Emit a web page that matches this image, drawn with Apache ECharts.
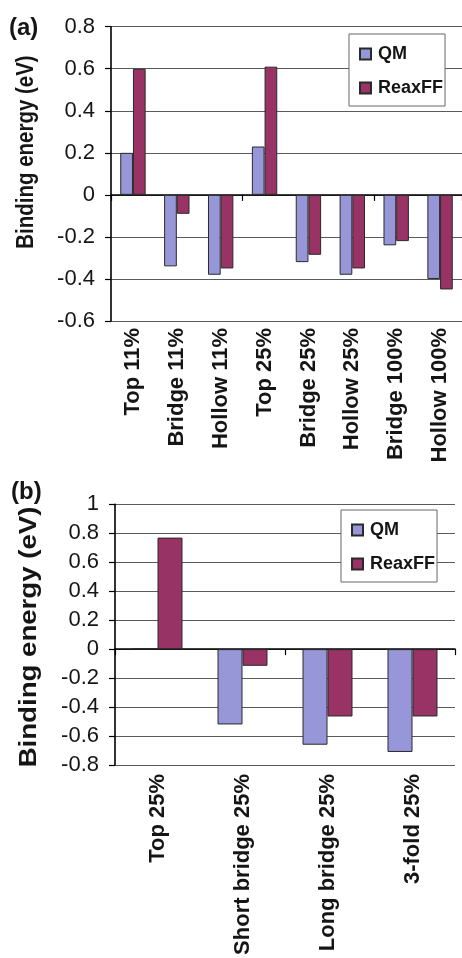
<!DOCTYPE html>
<html><head><meta charset="utf-8">
<script src="https://cdn.jsdelivr.net/npm/echarts@6/dist/echarts.min.js"></script>
<style>html,body{margin:0;padding:0;background:#fff}#c{width:462px;height:958px}</style>
</head><body><div id="c"></div>
<script>
// ---- data ----
const seriesNames = ['QM', 'ReaxFF'];
const catsA = ['Top 11%', 'Bridge 11%', 'Hollow 11%', 'Top 25%', 'Bridge 25%', 'Hollow 25%', 'Bridge 100%', 'Hollow 100%'];
const qmA = [0.20, -0.34, -0.38, 0.23, -0.32, -0.38, -0.24, -0.40];
const reaxA = [0.60, -0.09, -0.35, 0.61, -0.285, -0.35, -0.22, -0.45];
const ticksA = [-0.6, -0.4, -0.2, 0, 0.2, 0.4, 0.6, 0.8];
const catsB = ['Top 25%', 'Short bridge 25%', 'Long bridge 25%', '3-fold 25%'];
const qmB = [0.005, -0.52, -0.66, -0.71];
const reaxB = [0.77, -0.115, -0.465, -0.465];
const ticksB = [-0.8, -0.6, -0.4, -0.2, 0, 0.2, 0.4, 0.6, 0.8, 1];
const panelLabels = ['(a)', '(b)'];
const yTitle = 'Binding energy (eV)';

// ---- style ----
const FONT = '"Liberation Sans", Arial, Helvetica, sans-serif';
const C_QM = '#9696d8';
const C_RX = '#993366';
const TXT = '#151515';

function fmt(v) { return String(Number(v.toFixed(1))); }

function yAxisFor(grid, ticks) {
  return {
    type: 'value', gridIndex: grid,
    min: ticks[0], max: ticks[ticks.length - 1], interval: 0.2,
    axisLine: { show: true, onZero: false, lineStyle: { color: '#000', width: 1.6 } },
    axisTick: { show: true, length: 6, lineStyle: { color: '#000', width: 1.2 } },
    splitLine: { show: true, lineStyle: { color: '#5a5a5a', width: 1 } },
    axisLabel: { fontFamily: FONT, fontSize: 22, color: TXT, margin: 16, formatter: fmt }
  };
}
function labelAxis(grid, cats, margin) {
  return {
    type: 'category', gridIndex: grid, data: cats, position: 'bottom',
    axisLine: { show: false, onZero: false }, axisTick: { show: false },
    splitLine: { show: false },
    axisLabel: { rotate: 90, interval: 0, margin: margin, fontFamily: FONT, fontWeight: 'bold', fontSize: 22, color: TXT }
  };
}
function zeroAxis(grid, cats) {
  return {
    type: 'category', gridIndex: grid, data: cats, position: 'top',
    axisLine: { show: true, onZero: true, lineStyle: { color: '#000', width: 1.6 } },
    axisTick: { show: true, inside: true, length: 6, lineStyle: { color: '#000', width: 1.2 } },
    axisLabel: { show: false }, splitLine: { show: false }
  };
}
function bars(name, data, color, xi, yi, w) {
  return {
    type: 'bar', name: name, data: data, xAxisIndex: xi, yAxisIndex: yi,
    barWidth: w, barGap: '0%',
    itemStyle: { color: color, borderColor: '#2a2a2a', borderWidth: 1 },
    animation: false
  };
}
function legendAt(left, top) {
  return {
    data: seriesNames, orient: 'vertical', left: left, top: top,
    itemWidth: 11, itemHeight: 11, itemGap: 16,
    padding: [11, 2, 9, 10],
    borderColor: '#666', borderWidth: 1, backgroundColor: '#fff',
    textStyle: { fontFamily: FONT, fontWeight: 'bold', fontSize: 18, color: TXT, lineHeight: 18, padding: [0, 0, 0, 2] },
    icon: 'rect', selectedMode: false
  };
}

const chart = echarts.init(document.getElementById('c'), null, { renderer: 'canvas' });
chart.setOption({
  animation: false,
  backgroundColor: '#fff',
  grid: [
    { left: 111, top: 26.7, width: 351, height: 294.3 },
    { left: 115, top: 504.3, width: 340, height: 260.7 }
  ],
  xAxis: [labelAxis(0, catsA, 7), zeroAxis(0, catsA), labelAxis(1, catsB, 9), zeroAxis(1, catsB)],
  yAxis: [yAxisFor(0, ticksA), yAxisFor(1, ticksB)],
  legend: [legendAt(349, 34), legendAt(341, 510)],
  series: [
    bars(seriesNames[0], qmA, C_QM, 0, 0, 12.7),
    bars(seriesNames[1], reaxA, C_RX, 0, 0, 12.7),
    bars(seriesNames[0], qmB, C_QM, 2, 1, 25),
    bars(seriesNames[1], reaxB, C_RX, 2, 1, 25)
  ],
  graphic: [
    { type: 'text', x: 9, y: 16, style: { text: panelLabels[0], font: 'bold 24px ' + FONT, fill: TXT } },
    { type: 'text', x: 11, y: 480, style: { text: panelLabels[1], font: 'bold 24px ' + FONT, fill: TXT } },
    { type: 'text', x: 27, y: 152, rotation: Math.PI / 2, scaleX: 0.89,
      style: { text: yTitle, font: 'bold 23px ' + FONT, fill: TXT, align: 'center', verticalAlign: 'middle' } },
    { type: 'text', x: 30, y: 637, rotation: Math.PI / 2, scaleX: 1.2,
      style: { text: yTitle, font: 'bold 23px ' + FONT, fill: TXT, align: 'center', verticalAlign: 'middle' } }
  ]
});
</script></body></html>
